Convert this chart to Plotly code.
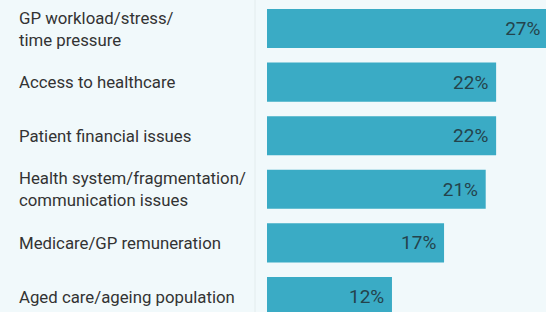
import plotly.graph_objects as go

categories = [
    "GP workload/stress/<br>time pressure",
    "Access to healthcare",
    "Patient financial issues",
    "Health system/fragmentation/<br>communication issues",
    "Medicare/GP remuneration",
    "Aged care/ageing population",
]
values = [27, 22, 22, 21, 17, 12]
value_labels = ["27%", "22%", "22%", "21%", "17%", "12%"]

W, H = 556, 312
left = 267
x_max = 27.75
fig = go.Figure()
fig.add_trace(go.Bar(
    x=values, y=categories, orientation="h",
    marker=dict(color="#3aabc5", line=dict(width=0)),
    text=value_labels, texttemplate="%{text}\u00a0", textposition="inside",
    insidetextanchor="end",
    textfont=dict(family="Roboto", size=19, color="#24434c"),
    cliponaxis=False, width=0.73, hoverinfo="skip",
))

for c in categories:
    fig.add_annotation(
        x=-(left - 17) / (W - left), xref="paper", y=c, yref="y",
        text=c, showarrow=False, xanchor="left", align="left",
        font=dict(family="Roboto", size=16.8, color="#333333"),
    )

fig.add_shape(type="line", xref="paper", yref="paper",
              x0=-(left - 255) / (W - left), x1=-(left - 255) / (W - left), y0=0, y1=1,
              line=dict(color="#e3eced", width=1))

fig.update_layout(
    width=W, height=H,
    margin=dict(l=left, r=0, t=0, b=0),
    paper_bgcolor="#f1f9fb", plot_bgcolor="#f1f9fb",
    showlegend=False,
    xaxis=dict(range=[0, x_max], visible=False, fixedrange=True),
    yaxis=dict(range=[(H - 28.5) / 53.6, -28.5 / 53.6], showticklabels=False,
               showgrid=False, zeroline=False, fixedrange=True),
)
fig.write_html(
    "out.html",
    config={"displayModeBar": False, "staticPlot": True},
    post_script="document.body.style.margin='0';"
                "document.body.style.overflow='hidden';"
                "document.documentElement.style.overflow='hidden';",
)
